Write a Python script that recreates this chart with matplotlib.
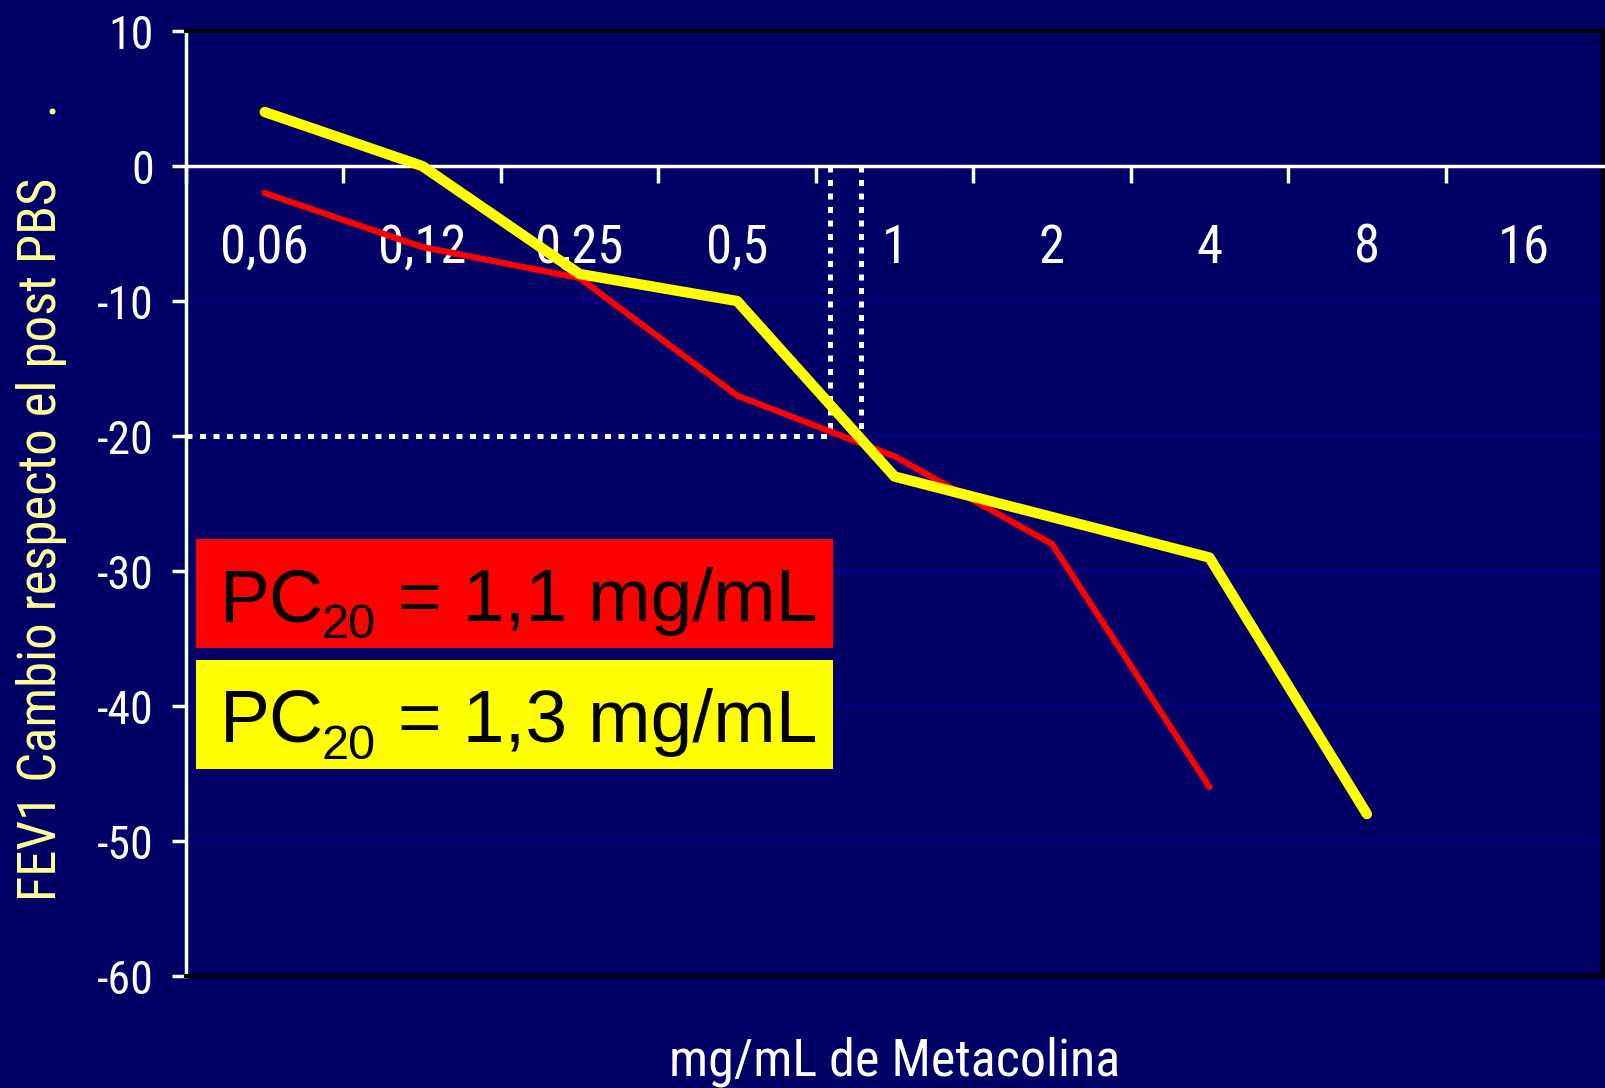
import matplotlib
matplotlib.use('Agg')
import matplotlib.pyplot as plt
from matplotlib.patches import Rectangle

# Datos
dosis = ['0,06', '0,12', '0,25', '0,5', '1', '2', '4', '8', '16']
fev1_rojo = [-2, -6, -8.3, -17, -21.5, -28, -46]
fev1_amarillo = [4, 0, -8, -10, -23, -26, -29, -48]
pc20_x = [3.59, 3.79]   # posicion de las lineas de puntos (entre 0,5 y 1)
pc20_valores = ['= 1,1 mg/mL', '= 1,3 mg/mL']
pc20_colores = ['#ff0000', '#ffff00']

fondo = '#000066'
narrow = ['Roboto Condensed', 'Roboto', 'DejaVu Sans']
arial = ['Liberation Sans', 'DejaVu Sans']

fig = plt.figure(figsize=(16.05, 10.88), dpi=100, facecolor=fondo)
ax = fig.add_axes([0.1159, 0.1029, 0.8829, 0.8686], facecolor=fondo)

x = list(range(len(dosis)))

# rejilla horizontal
for v in [-10, -20, -30, -40, -50]:
    ax.axhline(v, color='#00008c', lw=1.5, zorder=1)

# lineas de puntos del PC20
ax.plot([-0.5, pc20_x[0]], [-20, -20], color='white', lw=3.6,
        linestyle=(0, (1.2, 1.5)), dash_capstyle='butt', zorder=2)
for px in pc20_x:
    ax.plot([px, px], [0, -20], color='white', lw=3.6,
            linestyle=(0, (1.2, 1.5)), dash_capstyle='butt', zorder=2)

ax.plot(x[:len(fev1_rojo)], fev1_rojo, color='#ff0000', lw=4.5, zorder=3,
        solid_capstyle='round', solid_joinstyle='round')
ax.plot(x[:len(fev1_amarillo)], fev1_amarillo, color='#ffff00', lw=7.5, zorder=4,
        solid_capstyle='round', solid_joinstyle='round')

ax.set_xlim(-0.5, 8.5)
ax.set_ylim(-60, 10)

# ejes
ax.spines['bottom'].set_position(('data', 0))
ax.spines['bottom'].set_color('white')
ax.spines['bottom'].set_linewidth(2.5)
ax.spines['left'].set_color('white')
ax.spines['left'].set_linewidth(2.5)
ax.spines['top'].set_color('black')
ax.spines['top'].set_linewidth(3)
ax.spines['right'].set_color('black')
ax.spines['right'].set_linewidth(3)
ax.axhline(-60, color='black', lw=3, clip_on=False, zorder=5)

ax.set_xticks([i - 0.5 for i in range(len(dosis) + 1)])
ax.set_xticklabels([])
ax.set_xticks(x, minor=True)
ax.set_xticklabels(dosis, minor=True, color='white', fontsize=38, family=narrow)
ax.tick_params(axis='x', which='major', direction='out', length=12, width=2.5, color='white')
ax.tick_params(axis='x', which='minor', length=0, pad=41)

ax.set_yticks(range(-60, 11, 10))
ax.set_yticklabels([str(v) for v in range(-60, 11, 10)], color='white',
                   fontsize=33, family=narrow)
ax.tick_params(axis='y', direction='out', length=10, width=2.5, color='white', pad=13)

fig.text(0.5575, 0.0244, 'mg/mL de Metacolina', color='white', fontsize=37.5,
         family=narrow, ha='center', va='center')
fig.text(0.026, 0.5386, 'FEV1 Cambio respecto el post PBS     .', color='#ffff99',
         fontsize=38, family=narrow, rotation=90, ha='center', va='center')

# cajas con el PC20 (PC, subindice 20 y valor)
cajas_y = [539, 660]
W, H = 1605, 1088
for yy, val, col in zip(cajas_y, pc20_valores, pc20_colores):
    fig.patches.append(Rectangle((196 / W, 1 - (yy + 109) / H), 637 / W, 109 / H,
                                 transform=fig.transFigure, facecolor=col,
                                 edgecolor='none', zorder=6))
    base = yy + 82
    fig.text(220 / W, 1 - base / H, 'PC', color='black', fontsize=54,
             family=arial, ha='left', va='baseline', zorder=7)
    fig.text(321 / W, 1 - (base + 17) / H, '20', color='black', fontsize=35,
             family=arial, ha='left', va='baseline', zorder=7)
    fig.text(398 / W, 1 - base / H, val, color='black', fontsize=54,
             family=arial, ha='left', va='baseline', zorder=7)

fig.savefig('out.png', dpi=100, facecolor=fondo)
